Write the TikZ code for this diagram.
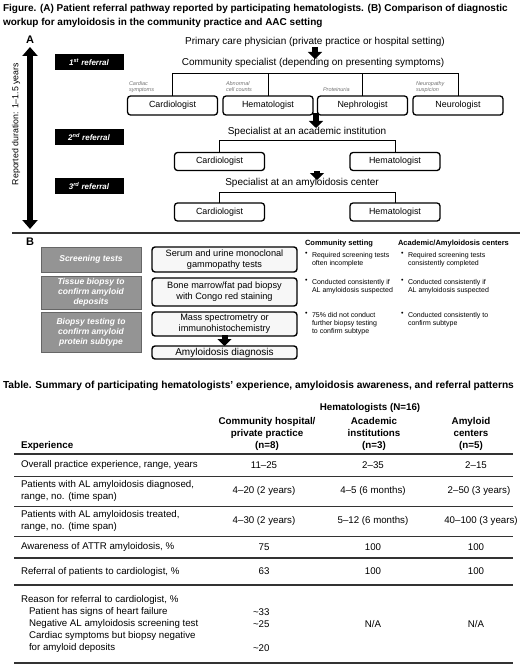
\documentclass[tikz,border=0pt]{standalone}
\usepackage{fontspec}
\setmainfont{Liberation Sans}
\usetikzlibrary{arrows.meta}
\newcommand\fsz[2]{\fontsize{#1bp}{#2bp}\selectfont}
\begin{document}
\begin{tikzpicture}[x=1bp,y=-1bp,
 every node/.style={inner sep=0pt,outer sep=0pt},
 ttl/.style={anchor=west,font=\bfseries\fsz{10}{11}},
 hd/.style={font=\fsz{10}{12}},
 spbox/.style={draw,rounded corners=3bp,line width=1.3bp,minimum width=90bp,minimum height=18bp,font=\fsz{8.9}{10}},
 refbox/.style={fill=black,text=white,font=\bfseries\itshape\fsz{8}{9},minimum width=69bp,minimum height=16bp},
 symlab/.style={anchor=west,align=left,font=\itshape\fsz{5.5}{6},text=black!55},
 tree/.style={line width=1bp},
 blk/.style={line width=6bp,-{Triangle[width=14bp,length=7bp]}},
 gbox/.style={draw=black!60,fill=black!42,text=white,font=\bfseries\itshape\fsz{8.5}{10},align=center,minimum width=100bp,line width=0.8bp},
 wbox/.style={draw,rounded corners=3bp,line width=1.4bp,fill=black!3,font=\fsz{9.2}{11},align=center,minimum width=145bp},
 colhd/.style={font=\bfseries\fsz{7.5}{9},anchor=west},
 bul/.style={font=\fsz{7}{8.3},anchor=north west,align=left},
 tb/.style={font=\fsz{9.7}{12}},
 tbl/.style={tb,anchor=west,align=left},
 thb/.style={font=\bfseries\fsz{9.8}{12},align=center},
 trule/.style={line width=1.6bp,black!80},
 nrule/.style={line width=0.7bp,black!80}
]
\useasboundingbox (0,0) rectangle (520,665);

% titles
\node[ttl] (t1) at (3,9) {Figure. (A) Patient referral pathway reported by participating hematologists. (B) Comparison of diagnostic};
\node[ttl] (t2) at (3,23) {workup for amyloidosis in the community practice and AAC setting};

% panel A
\node[font=\bfseries\fsz{11}{12}] (A) at (30,40) {A};
\coordinate (vtop) at (30,47);
\coordinate (vbot) at (30,229);
\draw[line width=6.5bp,{Triangle[width=15bp,length=9bp]}-{Triangle[width=15bp,length=9bp]}] (vtop) -- (vbot);
\node[rotate=90,font=\fsz{8.8}{10}] (dur) at (16,124) {Reported duration: 1–1.5 years};

\node[refbox] (r1) at (89,62) {1\textsuperscript{st} referral};
\node[refbox] (r2) at (89,137) {2\textsuperscript{nd} referral};
\node[refbox] (r3) at (89,186) {3\textsuperscript{rd} referral};

\node[hd] (pcp) at (315,42) {Primary care physician (private practice or hospital setting)};
\node[hd] (cs) at (313,63) {Community specialist (depending on presenting symptoms)};
\coordinate (a1s) at (315,47);
\coordinate (a1e) at (315,59);
\draw[blk] (a1s) -- (a1e);

\node[spbox,minimum height=19bp] (c1) at (172.5,105.5) {Cardiologist};
\node[spbox,minimum height=19bp] (h1) at (268,105.5) {Hematologist};
\node[spbox,minimum height=19bp] (n1) at (362.5,105.5) {Nephrologist};
\node[spbox,minimum height=19bp] (u1) at (458,105.5) {Neurologist};
\coordinate (j1) at (0,74);
\draw[tree] (c1.north) -- (c1.north |- j1) -- (u1.north |- j1) -- (u1.north);
\draw[tree] (h1.north) -- (h1.north |- j1);
\draw[tree] (n1.north) -- (n1.north |- j1);

\node[symlab] (s1) at (129,87) {Cardiac\\symptoms};
\node[symlab] (s2) at (226,87) {Abnormal\\cell counts};
\node[symlab] (s3) at (323,90) {Proteinuria};
\node[symlab] (s4) at (416,87) {Neuropathy\\suspicion};

\coordinate (a2s) at (316,113);
\coordinate (a2e) at (316,128);
\draw[blk] (a2s) -- (a2e);
\node[hd] (sa) at (307,132) {Specialist at an academic institution};
\node[spbox] (c2) at (219.5,161.5) {Cardiologist};
\node[spbox] (h2) at (395,161.5) {Hematologist};
\coordinate (j2) at (0,140);
\draw[tree] (c2.north) -- (c2.north |- j2) -- (h2.north |- j2) -- (h2.north);

\coordinate (a3s) at (317,171);
\coordinate (a3e) at (317,180);
\draw[blk] (a3s) -- (a3e);
\node[hd] (sm) at (302,183) {Specialist at an amyloidosis center};
\node[spbox] (c3) at (219.5,212) {Cardiologist};
\node[spbox] (h3) at (395,212) {Hematologist};
\coordinate (j3) at (0,192);
\draw[tree] (c3.north) -- (c3.north |- j3) -- (h3.north |- j3) -- (h3.north);

\draw[line width=1.4bp,black!80] (12,233) -- (520,233);

% panel B
\node[font=\bfseries\fsz{11}{12}] (B) at (30,242) {B};
\node[gbox,minimum height=25bp] (g1) at (91,259.5) {Screening tests};
\node[gbox,minimum height=33bp] (g2) at (91,292.5) {Tissue biopsy to\\confirm amyloid\\deposits};
\node[gbox,minimum height=40bp] (g3) at (91,332) {Biopsy testing to\\confirm amyloid\\protein subtype};

\node[wbox,minimum height=25bp] (m1) at (224.5,259.5) {Serum and urine monoclonal\\gammopathy tests};
\node[wbox,minimum height=28bp] (m2) at (224.5,292) {Bone marrow/fat pad biopsy\\with Congo red staining};
\node[wbox,minimum height=24bp] (m3) at (224.5,324) {Mass spectrometry or\\immunohistochemistry};
\node[wbox,minimum height=13bp,font=\fsz{10}{11}] (dx) at (224.5,352.5) {Amyloidosis diagnosis};
\coordinate (a4s) at (224.5,335);
\coordinate (a4e) at (224.5,346);
\draw[blk] (a4s) -- (a4e);

\node[colhd] (cst) at (305,244) {Community setting};
\node[colhd] (act) at (398,244) {Academic/Amyloidosis centers};
\node[bul] (p1) at (305,252) {•};
\node[bul] (q1) at (312,252) {Required screening tests\\often incomplete};
\node[bul] (p2) at (305,279) {•};
\node[bul] (q2) at (312,279) {Conducted consistently if\\AL amyloidosis suspected};
\node[bul] (p3) at (305,312) {•};
\node[bul] (q3) at (312,312) {75\% did not conduct\\further biopsy testing\\to confirm subtype};
\node[bul] (p4) at (401,252) {•};
\node[bul] (q4) at (408,252) {Required screening tests\\consistently completed};
\node[bul] (p5) at (401,279) {•};
\node[bul] (q5) at (408,279) {Conducted consistently if\\AL amyloidosis suspected};
\node[bul] (p6) at (401,312) {•};
\node[bul] (q6) at (408,312) {Conducted consistently to\\confirm subtype};

% table
\node[ttl,font=\bfseries\fsz{10.2}{11}] (tt) at (3,386) {Table. Summary of participating hematologists’ experience, amyloidosis awareness, and referral patterns};
\node[thb] (hem) at (370,408) {Hematologists (N=16)};
\node[thb] (col1) at (267,434) {Community hospital/\\private practice\\(n=8)};
\node[thb] (col2) at (374,434) {Academic\\institutions\\(n=3)};
\node[thb] (col3) at (471,434) {Amyloid\\centers\\(n=5)};
\node[thb,anchor=west] (exp) at (21,446) {Experience};
\draw[trule] (14,454) -- (513,454);

\node[tbl] (l1) at (21,465) {Overall practice experience, range, years};
\node[tb] (v11) at (264,465) {11–25};
\node[tb] (v12) at (373,465) {2–35};
\node[tb] (v13) at (476,465) {2–15};
\draw[nrule] (14,476) -- (513,476);

\node[tbl] (l2) at (21,491) {Patients with AL amyloidosis diagnosed,\\range, no. (time span)};
\node[tb] (v21) at (264,491) {4–20 (2 years)};
\node[tb] (v22) at (373,491) {4–5 (6 months)};
\node[tb] (v23) at (479,491) {2–50 (3 years)};
\draw[nrule] (14,506) -- (513,506);

\node[tbl] (l3) at (21,521) {Patients with AL amyloidosis treated,\\range, no. (time span)};
\node[tb] (v31) at (264,521) {4–30 (2 years)};
\node[tb] (v32) at (373,521) {5–12 (6 months)};
\node[tb] (v33) at (481,521) {40–100 (3 years)};
\draw[nrule] (14,536) -- (513,536);

\node[tbl] (l4) at (21,547) {Awareness of ATTR amyloidosis, \%};
\node[tb] (v41) at (264,547) {75};
\node[tb] (v42) at (373,547) {100};
\node[tb] (v43) at (476,547) {100};
\draw[trule] (14,558) -- (513,558);

\node[tbl] (l5) at (21,571.5) {Referral of patients to cardiologist, \%};
\node[tb] (v51) at (264,571.5) {63};
\node[tb] (v52) at (373,571.5) {100};
\node[tb] (v53) at (476,571.5) {100};
\draw[trule] (14,585) -- (513,585);

\node[tbl] (l6) at (21,600) {Reason for referral to cardiologist, \%};
\node[tbl] (l61) at (29,612) {Patient has signs of heart failure};
\node[tbl] (l62) at (29,624) {Negative AL amyloidosis screening test};
\node[tbl] (l63) at (29,636) {Cardiac symptoms but biopsy negative};
\node[tbl] (l64) at (29,648) {for amyloid deposits};
\node[tbl] (v61) at (253,612) {\textasciitilde 33};
\node[tbl] (v62) at (253,624) {\textasciitilde 25};
\node[tbl] (v64) at (253,648) {\textasciitilde 20};
\node[tb] (na2) at (373,624) {N/A};
\node[tb] (na3) at (476,624) {N/A};
\draw[trule] (14,663) -- (513,663);
\end{tikzpicture}
\end{document}
